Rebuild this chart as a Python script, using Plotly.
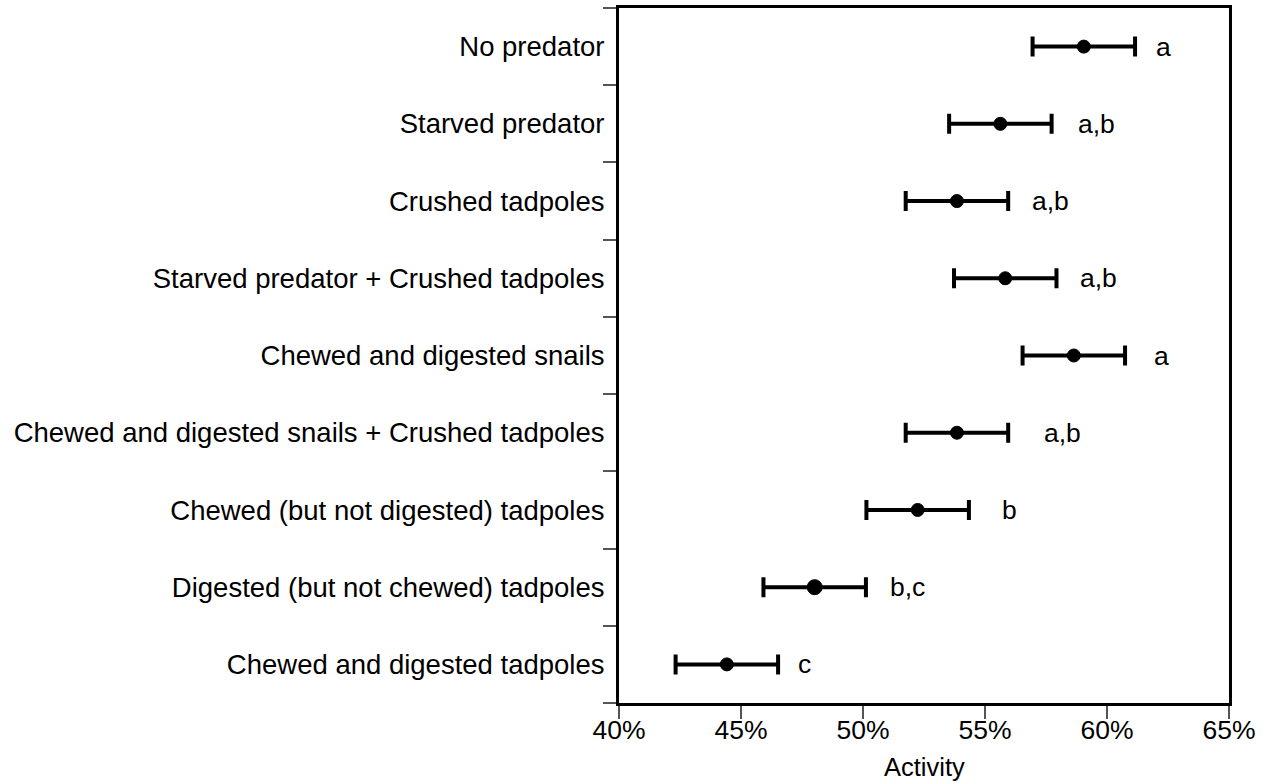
import plotly.graph_objects as go

# Treatment groups, top to bottom
treatments = [
    "No predator",
    "Starved predator",
    "Crushed tadpoles",
    "Starved predator + Crushed tadpoles",
    "Chewed and digested snails",
    "Chewed and digested snails + Crushed tadpoles",
    "Chewed (but not digested) tadpoles",
    "Digested (but not chewed) tadpoles",
    "Chewed and digested tadpoles",
]
# Mean activity (%) and standard error (%)
activity_mean = [59.05, 55.63, 53.85, 55.83, 58.64, 53.85, 52.24, 48.02, 44.42]
activity_se = [2.1, 2.1, 2.1, 2.1, 2.1, 2.1, 2.1, 2.1, 2.1]
# Significance groupings
groups = ["a", "a,b", "a,b", "a,b", "a", "a,b", "b", "b,c", "c"]
x_ticks = [40, 45, 50, 55, 60, 65]
x_tick_labels = ["40%", "45%", "50%", "55%", "60%", "65%"]

# Styling: pixel gap between each error bar end and its letter
label_gap = [19, 24, 22, 22, 27, 34, 31, 22, 18]

FONT = "Liberation Sans, Arial, Helvetica, sans-serif"
ypos = list(range(len(treatments)))

fig = go.Figure()
fig.add_trace(go.Scatter(
    x=activity_mean,
    y=ypos,
    mode="markers",
    opacity=1,
    marker=dict(color="#000000", opacity=1, size=[13, 13, 13, 13, 13, 13, 13, 15, 13],
                line=dict(color="#000000", width=1)),
    error_x=dict(type="data", array=activity_se, color="black", thickness=4, width=10),
    showlegend=False,
    hoverinfo="skip",
))

for i, (m, s, g) in enumerate(zip(activity_mean, activity_se, groups)):
    fig.add_annotation(
        x=m + s, y=i, text=g, showarrow=False,
        xanchor="left", yanchor="middle", xshift=label_gap[i],
        font=dict(family=FONT, size=26.5, color="black"),
    )

# Axis title, placed under the tick labels
fig.add_annotation(
    x=0.5, y=0, xref="paper", yref="paper", text="Activity", showarrow=False,
    xanchor="center", yanchor="middle", yshift=-64,
    font=dict(family=FONT, size=25.5, color="black"),
)

boundaries = [i - 0.5 for i in range(len(treatments) + 1)]

fig.update_layout(
    width=1269, height=782,
    margin=dict(l=619, r=40, t=8, b=79, autoexpand=False),
    paper_bgcolor="white", plot_bgcolor="white",
    font=dict(family=FONT, color="black"),
    xaxis=dict(
        range=[40, 65], tickmode="array", tickvals=x_ticks, ticktext=x_tick_labels,
        showline=True, linecolor="black", linewidth=3, mirror=True,
        showgrid=False, zeroline=False,
        ticks="outside", ticklen=13, tickwidth=1.5, tickcolor="#555",
        ticklabelstandoff=-12,
        tickfont=dict(family=FONT, size=26.5, color="black"),
        automargin=False,
    ),
    yaxis=dict(
        range=[len(treatments) - 0.5, -0.5],
        tickmode="array", tickvals=ypos, ticktext=treatments,
        showline=True, linecolor="black", linewidth=3, mirror=True,
        showgrid=False, zeroline=False,
        ticks="outside", ticklen=6, tickcolor="rgba(0,0,0,0)",
        tickfont=dict(family=FONT, size=27.5, color="black"),
        minor=dict(tickmode="array", tickvals=boundaries, ticks="outside",
                   ticklen=13, tickwidth=1.5, tickcolor="#555", showgrid=False),
        automargin=False,
    ),
)

fig.write_html("out.html")
